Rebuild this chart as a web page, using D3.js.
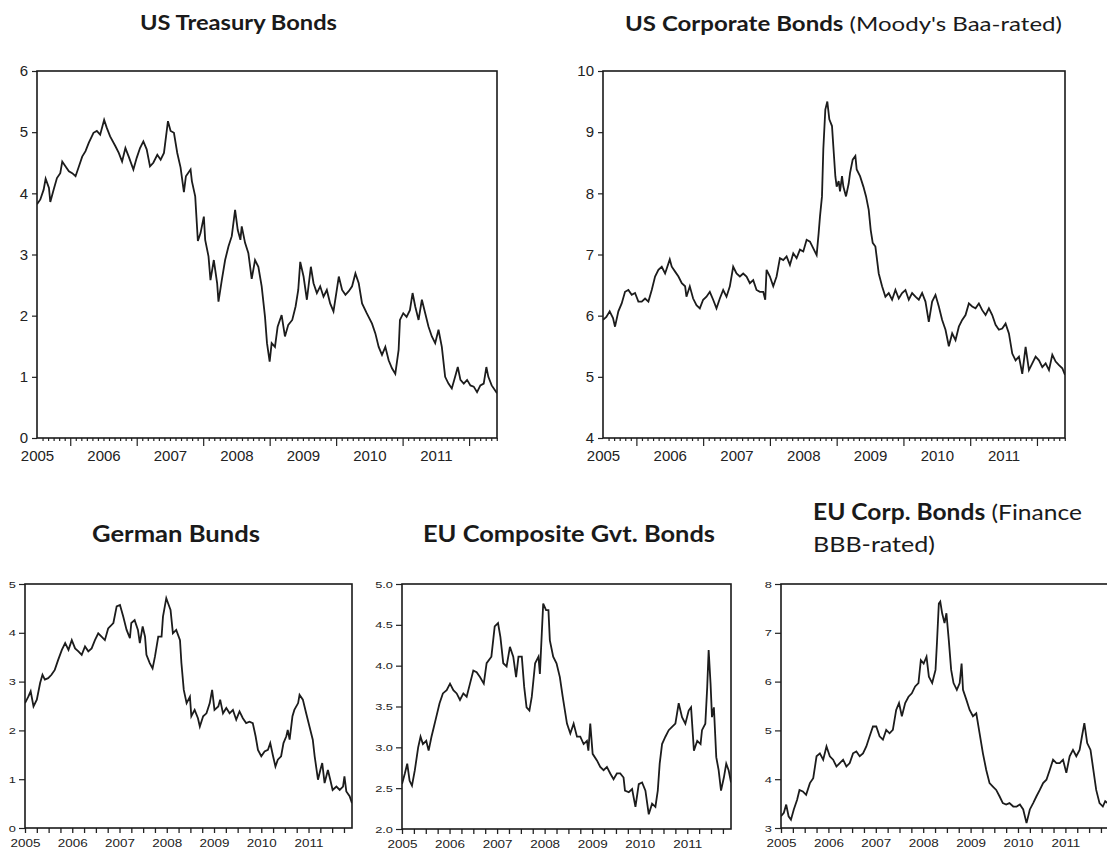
<!DOCTYPE html>
<html>
<head>
<meta charset="utf-8">
<script src="https://cdn.jsdelivr.net/npm/d3@7"></script>
<style>
  body { margin: 0; background: #fff; }
  svg { display: block; }
</style>
</head>
<body>
<svg id="chart" width="1107" height="852"></svg>
<script>
// yields in %, each point is [years since Jan 2005, value]
const usTreasury = [[0.00,3.82],[0.05,3.90],[0.10,4.06],[0.13,4.24],[0.18,4.09],[0.20,3.86],[0.25,4.06],[0.30,4.25],[0.35,4.33],[0.38,4.52],[0.43,4.44],[0.48,4.36],[0.53,4.33],[0.58,4.28],[0.63,4.44],[0.68,4.60],[0.73,4.69],[0.78,4.83],[0.85,4.99],[0.90,5.02],[0.95,4.96],[1.01,5.20],[1.05,5.07],[1.10,4.93],[1.18,4.77],[1.23,4.66],[1.28,4.52],[1.33,4.74],[1.38,4.60],[1.45,4.39],[1.50,4.58],[1.55,4.74],[1.60,4.85],[1.65,4.72],[1.70,4.44],[1.75,4.50],[1.81,4.63],[1.86,4.55],[1.91,4.66],[1.97,5.18],[2.01,5.02],[2.06,4.99],[2.11,4.66],[2.16,4.42],[2.21,4.02],[2.24,4.28],[2.31,4.39],[2.33,4.20],[2.38,3.95],[2.42,3.22],[2.46,3.35],[2.51,3.62],[2.53,3.24],[2.58,2.97],[2.61,2.58],[2.66,2.91],[2.71,2.53],[2.73,2.23],[2.78,2.58],[2.83,2.91],[2.88,3.13],[2.93,3.30],[2.98,3.73],[3.02,3.40],[3.06,3.24],[3.08,3.46],[3.13,3.19],[3.18,3.02],[3.23,2.60],[3.28,2.91],[3.33,2.80],[3.38,2.48],[3.43,1.98],[3.46,1.55],[3.50,1.25],[3.53,1.55],[3.58,1.49],[3.62,1.82],[3.68,2.01],[3.73,1.66],[3.78,1.85],[3.84,1.93],[3.89,2.15],[3.93,2.42],[3.96,2.88],[4.01,2.64],[4.06,2.26],[4.12,2.80],[4.16,2.53],[4.21,2.37],[4.26,2.48],[4.31,2.31],[4.36,2.42],[4.41,2.20],[4.46,2.07],[4.51,2.42],[4.54,2.64],[4.59,2.42],[4.64,2.34],[4.69,2.40],[4.74,2.48],[4.79,2.69],[4.84,2.53],[4.89,2.20],[4.96,2.04],[5.04,1.87],[5.09,1.71],[5.14,1.49],[5.19,1.36],[5.24,1.49],[5.29,1.27],[5.34,1.14],[5.39,1.05],[5.44,1.44],[5.46,1.93],[5.51,2.04],[5.56,1.98],[5.61,2.09],[5.65,2.37],[5.69,2.15],[5.74,1.93],[5.79,2.26],[5.84,2.04],[5.89,1.82],[5.94,1.66],[5.99,1.55],[6.04,1.77],[6.09,1.49],[6.14,1.00],[6.19,0.89],[6.24,0.81],[6.29,1.00],[6.33,1.16],[6.37,0.95],[6.42,0.89],[6.47,0.95],[6.52,0.86],[6.57,0.84],[6.62,0.75],[6.67,0.86],[6.72,0.89],[6.76,1.16],[6.79,1.00],[6.84,0.86],[6.89,0.78],[6.92,0.73]];

const usCorporate = [[0.00,5.93],[0.05,5.98],[0.10,6.07],[0.15,5.96],[0.18,5.82],[0.23,6.07],[0.28,6.20],[0.33,6.39],[0.38,6.42],[0.43,6.34],[0.48,6.37],[0.53,6.23],[0.58,6.23],[0.63,6.28],[0.68,6.23],[0.73,6.42],[0.78,6.64],[0.83,6.75],[0.88,6.80],[0.93,6.69],[1.00,6.92],[1.03,6.80],[1.08,6.72],[1.13,6.64],[1.18,6.53],[1.23,6.48],[1.25,6.31],[1.30,6.48],[1.35,6.28],[1.40,6.17],[1.45,6.12],[1.50,6.26],[1.55,6.31],[1.60,6.39],[1.65,6.26],[1.70,6.12],[1.75,6.28],[1.80,6.42],[1.85,6.31],[1.90,6.48],[1.95,6.80],[2.00,6.69],[2.05,6.64],[2.10,6.69],[2.15,6.64],[2.20,6.53],[2.25,6.58],[2.30,6.42],[2.35,6.39],[2.40,6.39],[2.43,6.26],[2.45,6.75],[2.50,6.64],[2.55,6.48],[2.60,6.64],[2.65,6.94],[2.70,6.91],[2.75,6.97],[2.80,6.83],[2.85,7.02],[2.90,6.94],[2.95,7.08],[3.00,7.05],[3.05,7.24],[3.10,7.21],[3.15,7.10],[3.20,6.99],[3.23,7.35],[3.25,7.62],[3.28,7.95],[3.30,8.72],[3.33,9.37],[3.36,9.50],[3.39,9.21],[3.43,9.10],[3.45,8.77],[3.48,8.28],[3.50,8.11],[3.53,8.20],[3.55,8.03],[3.58,8.28],[3.60,8.11],[3.64,7.95],[3.68,8.16],[3.70,8.33],[3.74,8.55],[3.78,8.61],[3.80,8.39],[3.85,8.28],[3.90,8.11],[3.94,7.95],[3.98,7.73],[4.01,7.40],[4.04,7.19],[4.08,7.13],[4.13,6.69],[4.18,6.48],[4.23,6.31],[4.28,6.37],[4.33,6.26],[4.38,6.42],[4.43,6.28],[4.48,6.37],[4.53,6.42],[4.58,6.26],[4.63,6.37],[4.68,6.31],[4.73,6.26],[4.78,6.37],[4.83,6.23],[4.88,5.90],[4.93,6.23],[4.98,6.34],[5.03,6.15],[5.08,5.93],[5.13,5.77],[5.18,5.50],[5.23,5.71],[5.28,5.60],[5.33,5.82],[5.38,5.93],[5.43,6.01],[5.48,6.20],[5.53,6.15],[5.58,6.12],[5.63,6.20],[5.68,6.09],[5.73,6.01],[5.78,6.12],[5.83,6.01],[5.88,5.85],[5.93,5.77],[5.98,5.79],[6.03,5.87],[6.08,5.71],[6.13,5.38],[6.18,5.27],[6.23,5.33],[6.28,5.05],[6.33,5.49],[6.38,5.11],[6.43,5.22],[6.48,5.33],[6.53,5.27],[6.58,5.16],[6.63,5.22],[6.68,5.11],[6.73,5.36],[6.78,5.25],[6.83,5.19],[6.88,5.14],[6.92,5.03]];

const germanBunds = [[0.00,2.56],[0.07,2.69],[0.12,2.80],[0.18,2.49],[0.25,2.63],[0.32,2.97],[0.37,3.14],[0.42,3.04],[0.49,3.07],[0.56,3.14],[0.63,3.24],[0.70,3.44],[0.78,3.65],[0.85,3.79],[0.92,3.65],[0.99,3.85],[1.06,3.68],[1.13,3.62],[1.20,3.55],[1.27,3.72],[1.34,3.62],[1.41,3.68],[1.48,3.85],[1.55,3.99],[1.62,3.92],[1.69,3.85],[1.76,4.09],[1.87,4.20],[1.94,4.54],[2.01,4.57],[2.08,4.33],[2.15,4.06],[2.22,3.89],[2.25,4.20],[2.32,4.26],[2.39,4.06],[2.43,3.79],[2.49,4.13],[2.54,3.92],[2.57,3.55],[2.64,3.38],[2.70,3.27],[2.75,3.51],[2.82,3.92],[2.89,3.92],[2.92,4.33],[2.99,4.71],[3.03,4.60],[3.08,4.47],[3.13,3.99],[3.20,4.06],[3.28,3.85],[3.31,3.38],[3.36,2.83],[3.42,2.56],[3.49,2.69],[3.52,2.29],[3.59,2.42],[3.66,2.25],[3.70,2.08],[3.77,2.29],[3.84,2.35],[3.91,2.56],[3.96,2.83],[4.01,2.42],[4.09,2.49],[4.13,2.63],[4.19,2.35],[4.26,2.46],[4.33,2.35],[4.40,2.42],[4.47,2.22],[4.54,2.39],[4.61,2.25],[4.68,2.15],[4.75,2.18],[4.82,2.15],[4.88,1.88],[4.93,1.60],[5.00,1.47],[5.07,1.57],[5.14,1.60],[5.19,1.74],[5.25,1.47],[5.30,1.26],[5.35,1.40],[5.42,1.47],[5.47,1.74],[5.53,1.88],[5.56,2.01],[5.60,1.81],[5.66,2.29],[5.70,2.42],[5.78,2.56],[5.81,2.73],[5.88,2.63],[5.95,2.35],[6.02,2.08],[6.09,1.81],[6.13,1.47],[6.20,0.99],[6.25,1.19],[6.29,1.33],[6.34,0.92],[6.41,1.19],[6.46,0.99],[6.51,0.78],[6.59,0.85],[6.66,0.78],[6.73,0.85],[6.76,1.06],[6.80,0.75],[6.87,0.65],[6.92,0.51]];

const euGovt = [[0.00,2.55],[0.06,2.68],[0.11,2.80],[0.16,2.59],[0.21,2.53],[0.27,2.72],[0.34,3.00],[0.39,3.13],[0.44,3.04],[0.51,3.08],[0.56,2.96],[0.62,3.13],[0.67,3.25],[0.72,3.37],[0.79,3.54],[0.86,3.66],[0.94,3.70],[1.01,3.78],[1.08,3.70],[1.15,3.66],[1.22,3.58],[1.29,3.66],[1.36,3.62],[1.43,3.78],[1.50,3.94],[1.57,3.92],[1.64,3.86],[1.72,3.78],[1.78,4.03],[1.88,4.11],[1.95,4.48],[2.02,4.52],[2.07,4.35],[2.13,4.03],[2.20,3.99],[2.27,4.23],[2.34,4.11],[2.40,3.86],[2.45,4.11],[2.52,4.11],[2.57,3.74],[2.62,3.49],[2.68,3.45],[2.73,3.62],[2.80,4.03],[2.87,4.11],[2.90,3.90],[2.94,4.39],[2.97,4.76],[3.03,4.68],[3.08,4.68],[3.11,4.31],[3.18,4.11],[3.25,4.03],[3.32,3.86],[3.38,3.62],[3.47,3.29],[3.54,3.17],[3.61,3.29],[3.68,3.13],[3.75,3.13],[3.82,3.04],[3.89,3.08],[3.92,2.96],[3.96,3.29],[4.01,2.92],[4.10,2.84],[4.17,2.76],[4.24,2.72],[4.31,2.76],[4.38,2.68],[4.45,2.61],[4.52,2.68],[4.59,2.68],[4.66,2.63],[4.69,2.47],[4.77,2.45],[4.84,2.49],[4.91,2.27],[4.98,2.55],[5.05,2.57],[5.12,2.47],[5.19,2.18],[5.26,2.31],[5.33,2.27],[5.38,2.47],[5.42,2.80],[5.47,3.04],[5.54,3.13],[5.61,3.21],[5.68,3.25],[5.75,3.29],[5.82,3.54],[5.89,3.37],[5.96,3.29],[6.03,3.45],[6.08,3.49],[6.14,2.96],[6.21,3.08],[6.28,3.04],[6.31,3.21],[6.38,3.29],[6.42,3.74],[6.45,4.19],[6.49,3.78],[6.52,3.37],[6.56,3.49],[6.61,2.88],[6.66,2.72],[6.71,2.47],[6.77,2.63],[6.82,2.80],[6.87,2.72],[6.92,2.57]];

const euCorp = [[0.00,3.24],[0.06,3.31],[0.11,3.48],[0.16,3.24],[0.21,3.17],[0.27,3.38],[0.34,3.58],[0.39,3.78],[0.46,3.75],[0.53,3.68],[0.61,3.92],[0.68,4.02],[0.75,4.47],[0.82,4.53],[0.89,4.40],[0.96,4.67],[1.03,4.47],[1.10,4.40],[1.17,4.26],[1.24,4.33],[1.31,4.40],[1.38,4.26],[1.45,4.33],[1.52,4.53],[1.59,4.57],[1.66,4.47],[1.73,4.53],[1.80,4.67],[1.87,4.88],[1.94,5.08],[2.01,5.08],[2.08,4.88],[2.15,4.81],[2.22,5.01],[2.29,4.94],[2.36,5.01],[2.43,5.42],[2.49,5.56],[2.55,5.29],[2.62,5.56],[2.69,5.69],[2.76,5.76],[2.83,5.90],[2.90,5.97],[2.95,6.44],[3.01,6.37],[3.07,6.51],[3.12,6.10],[3.19,5.97],[3.26,6.24],[3.29,6.79],[3.33,7.60],[3.36,7.64],[3.40,7.40],[3.45,7.20],[3.49,7.40],[3.54,6.85],[3.59,6.24],[3.64,5.97],[3.71,5.83],[3.77,5.97],[3.81,6.37],[3.84,5.83],[3.91,5.63],[3.98,5.42],[4.05,5.29],[4.12,5.35],[4.19,4.94],[4.26,4.53],[4.33,4.19],[4.40,3.92],[4.47,3.85],[4.54,3.78],[4.61,3.65],[4.68,3.51],[4.75,3.48],[4.82,3.51],[4.90,3.44],[4.97,3.44],[5.04,3.48],[5.11,3.38],[5.18,3.10],[5.25,3.38],[5.32,3.51],[5.39,3.65],[5.46,3.78],[5.53,3.92],[5.60,3.99],[5.67,4.19],[5.74,4.40],[5.81,4.33],[5.88,4.33],[5.95,4.40],[6.02,4.13],[6.09,4.47],[6.16,4.60],[6.23,4.47],[6.30,4.60],[6.35,4.88],[6.40,5.15],[6.46,4.74],[6.53,4.60],[6.58,4.26],[6.65,3.78],[6.72,3.51],[6.79,3.44],[6.84,3.55],[6.89,3.51],[6.92,3.60]];

const yearLabels = [2005, 2006, 2007, 2008, 2009, 2010, 2011];
const startYear = 2005;
const endYear = 2011.92;

const svg = d3.select("#chart");
const tickFont = "'Liberation Sans', Arial, sans-serif";
const titleFont = "Lato, 'Open Sans', sans-serif";

const panels = [
    { data: usTreasury, left: 37, right: 497, top: 71, bottom: 438, yDomain: [0, 6], yTicks: [0,1,2,3,4,5,6], fmt: d3.format("d"), small: false,
      titleX: 140, title: [ { y: 30, w: 197, parts: [["US Treasury Bonds", true]] } ] },
    { data: usCorporate, left: 603, right: 1065, top: 71, bottom: 438, yDomain: [4, 10], yTicks: [4,5,6,7,8,9,10], fmt: d3.format("d"), small: false,
      titleX: 625, title: [ { y: 31, w: 437, parts: [["US Corporate Bonds", true], [" (Moody's Baa-rated)", false]] } ] },
    { data: germanBunds, left: 25, right: 352, top: 584, bottom: 828, yDomain: [0, 5], yTicks: [0,1,2,3,4,5], fmt: d3.format("d"), small: true,
      titleX: 92, title: [ { y: 542, w: 168, parts: [["German Bunds", true]] } ] },
    { data: euGovt, left: 402, right: 731, top: 584, bottom: 829, yDomain: [2, 5], yTicks: [2,2.5,3,3.5,4,4.5,5], fmt: d3.format(".1f"), small: true,
      titleX: 423, title: [ { y: 542, w: 292, parts: [["EU Composite Gvt. Bonds", true]] } ] },
    { data: euCorp, left: 781, right: 1109, top: 584, bottom: 828, yDomain: [3, 8], yTicks: [3,4,5,6,7,8], fmt: d3.format("d"), small: true,
      titleX: 813, title: [ { y: 520, w: 269, parts: [["EU Corp. Bonds", true], [" (Finance", false]] },
                            { y: 552, w: 122, parts: [["BBB-rated)", false]] } ] }
];

// stretch text horizontally (the lower row of the original is widened)
function stretch(sel, k) {
    sel.each(function() {
        const w = this.getComputedTextLength();
        d3.select(this).attr("textLength", w * k).attr("lengthAdjust", "spacingAndGlyphs");
    });
}

panels.forEach((p, i) => {
    const x = d3.scaleLinear().domain([startYear, endYear]).range([p.left, p.right]);
    const y = d3.scaleLinear().domain(p.yDomain).range([p.bottom, p.top]);
    const g = svg.append("g");

    // title
    p.title.forEach(line => {
        const t = g.append("text")
            .attr("x", p.titleX)
            .attr("y", line.y)
            .attr("font-family", titleFont)
            .attr("font-size", p.small ? 22 : 20)
            .attr("fill", "#1a1a1a");
        line.parts.forEach(part => {
            t.append("tspan").text(part[0]).attr("font-weight", part[1] ? "bold" : "normal");
        });
        t.attr("textLength", line.w).attr("lengthAdjust", "spacingAndGlyphs");
    });

    // the series
    g.append("clipPath").attr("id", "clip" + i)
        .append("rect")
        .attr("x", p.left).attr("y", p.top)
        .attr("width", p.right - p.left).attr("height", p.bottom - p.top);

    const line = d3.line()
        .x(d => x(startYear + d[0]))
        .y(d => y(d[1]));

    g.append("path")
        .datum(p.data)
        .attr("clip-path", `url(#clip${i})`)
        .attr("fill", "none")
        .attr("stroke", "#1c1c1c")
        .attr("stroke-width", 1.8)
        .attr("stroke-linejoin", "miter")
        .attr("d", line);

    // y axis
    const yAxis = g.append("g")
        .attr("transform", `translate(${p.left},0)`)
        .call(d3.axisLeft(y).tickValues(p.yTicks).tickFormat(p.fmt)
            .tickSize(p.small ? 6 : 5).tickPadding(p.small ? 3 : 4));
    yAxis.select(".domain").remove();
    yAxis.selectAll("line").attr("stroke", "#222").attr("stroke-width", 1.2);
    yAxis.selectAll("text")
        .attr("font-family", tickFont)
        .attr("font-size", p.small ? 9.5 : 15)
        .attr("fill", "#222");
    if (p.small) stretch(yAxis.selectAll("text"), 1.35);

    // x axis ticks
    if (!p.small) {
        const months = d3.range(1, 84).map(m => startYear + m / 12).filter(t => t < endYear && (Math.round(t * 12) % 12) !== 6);
        const mids = yearLabels.map(yr => yr + 0.5).filter(t => t < endYear);
        const minor = g.append("g").attr("transform", `translate(0,${p.bottom})`)
            .call(d3.axisBottom(x).tickValues(months).tickSize(3).tickFormat(""));
        minor.select(".domain").remove();
        const major = g.append("g").attr("transform", `translate(0,${p.bottom})`)
            .call(d3.axisBottom(x).tickValues(mids).tickSize(8).tickFormat(""));
        major.select(".domain").remove();
        g.selectAll("line").attr("stroke", "#222").attr("stroke-width", 1.2);
    } else {
        const quarters = d3.range(0, 28).map(q => startYear + q / 4).filter(t => t < endYear);
        const qt = g.append("g").attr("transform", `translate(0,${p.bottom})`)
            .call(d3.axisBottom(x).tickValues(quarters).tickSize(5).tickFormat(""));
        qt.select(".domain").remove();
        qt.selectAll("line").attr("stroke", "#222").attr("stroke-width", 1.3);
    }

    // year labels
    const labels = g.append("g").attr("transform", `translate(0,${p.bottom})`)
        .call(d3.axisBottom(x).tickValues(yearLabels).tickFormat(d3.format("d"))
            .tickSize(0).tickPadding(p.small ? 12 : 12));
    labels.select(".domain").remove();
    labels.selectAll("text")
        .attr("font-family", tickFont)
        .attr("font-size", p.small ? 10.5 : 15)
        .attr("fill", "#222");
    if (p.small) stretch(labels.selectAll("text"), 1.28);

    // frame
    g.append("rect")
        .attr("x", p.left).attr("y", p.top)
        .attr("width", p.right - p.left).attr("height", p.bottom - p.top)
        .attr("fill", "none")
        .attr("stroke", "#1a1a1a")
        .attr("stroke-width", 1.6);
});
</script>
</body>
</html>
